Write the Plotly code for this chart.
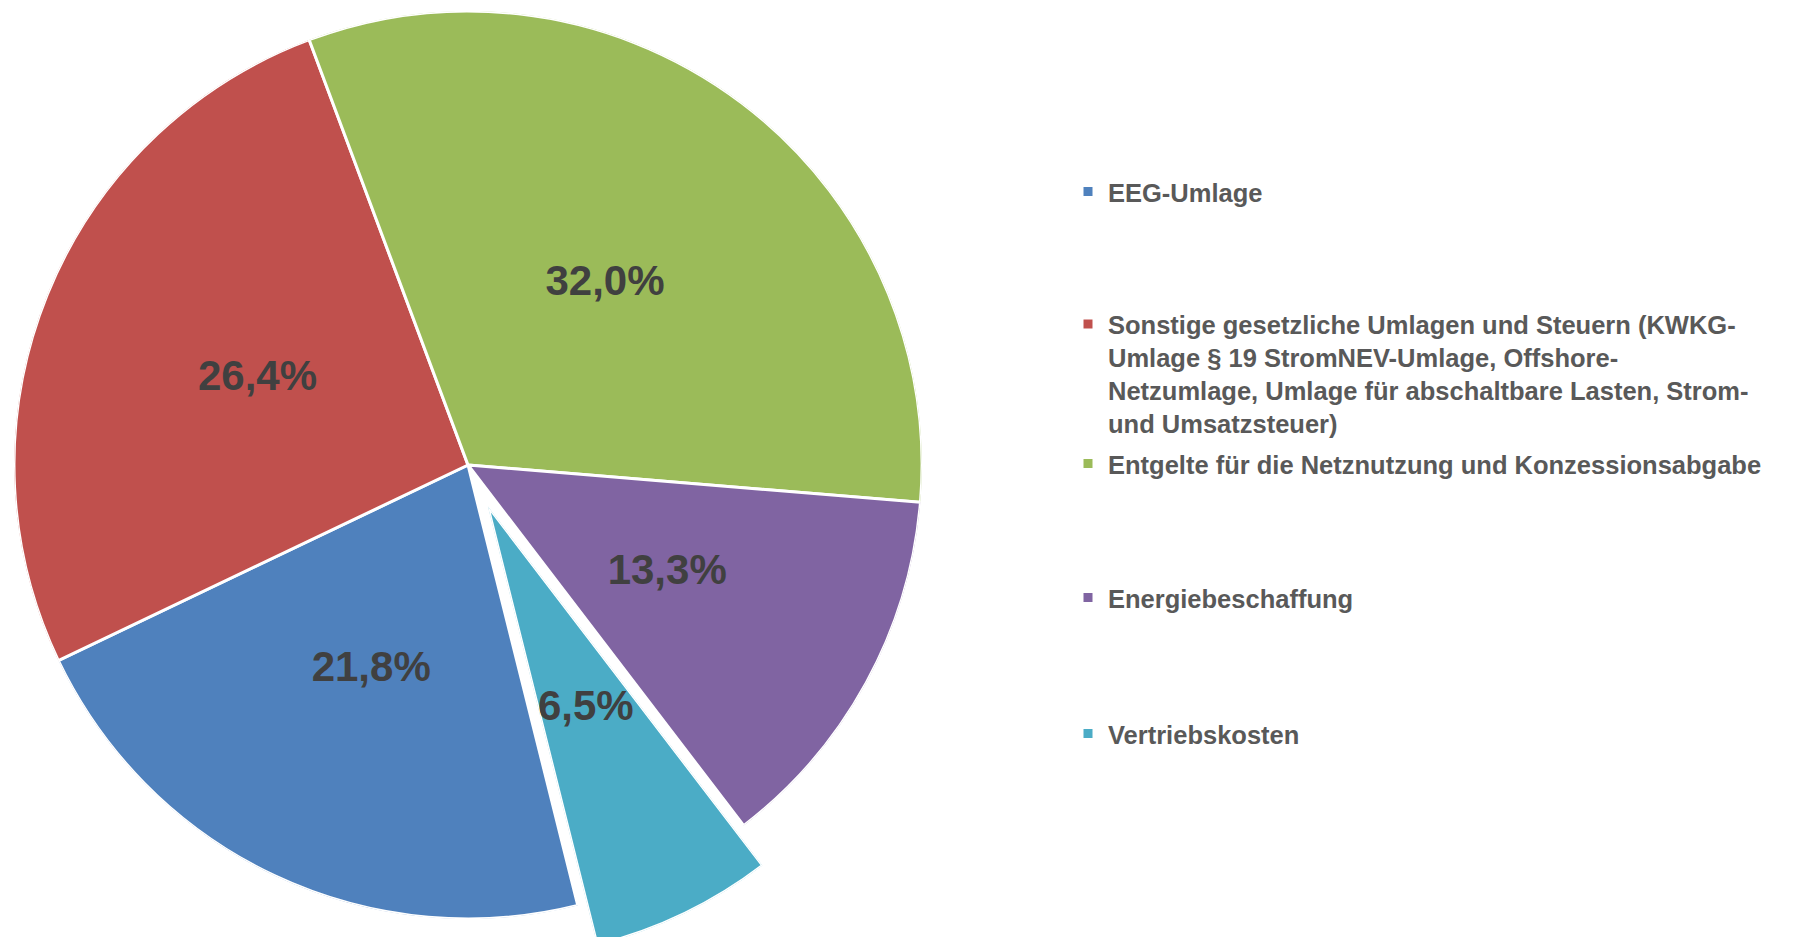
import math
import plotly.graph_objects as go

# ---------------- data ----------------
categories = [
    "EEG-Umlage",
    "Sonstige gesetzliche Umlagen und Steuern (KWKG-<br>Umlage § 19 StromNEV-Umlage, Offshore-<br>"
    "Netzumlage, Umlage für abschaltbare Lasten, Strom-<br>und Umsatzsteuer)",
    "Entgelte für die Netznutzung und Konzessionsabgabe",
    "Energiebeschaffung",
    "Vertriebskosten",
]
shares = [21.8, 26.4, 32.0, 13.3, 6.5]
exploded = [False, False, False, False, True]

# ---------------- style / layout ----------------
colors = ["#4F81BD", "#C0504D", "#9BBB59", "#8064A2", "#4BACC6"]
W, H = 1794, 937
PAGE_OFFSET = 8                    # default body margin of the html page
CX, CY, R = 468 - PAGE_OFFSET, 465 - PAGE_OFFSET, 454   # pie centre and radius (px, figure coords)
FIRST_ANGLE = 166                  # start of first slice, degrees clockwise from 12 o'clock
EXPLODE = 0.10                     # explosion as fraction of radius
LABEL_R = 0.5                      # data labels at half radius
legend_y_px = [192, 374, 464, 598, 734]
legend_x_px = 1060
FONT = "Liberation Sans, Arial, sans-serif"

total = sum(shares)
spans = [s / total * 360 for s in shares]
starts = []
acc = FIRST_ANGLE
for sp in spans:
    starts.append(acc)
    acc += sp
mids = [(st + sp / 2) % 360 for st, sp in zip(starts, spans)]
label_text = [f"{s:.1f}%".replace(".", ",") for s in shares]

fig = go.Figure()
legend_ids = ["legend"] + [f"legend{i}" for i in range(2, len(categories) + 1)]

main_idx = [i for i, e in enumerate(exploded) if not e]
expl_idx = [i for i, e in enumerate(exploded) if e]

for i in range(len(categories)):
    fig.add_trace(go.Barpolar(
        r=[1], theta=[mids[i]], width=[spans[i]],
        marker=dict(color=colors[i], line=dict(color="white", width=3)),
        name=categories[i],
        legend=legend_ids[i],
        subplot="polar" if not exploded[i] else "polar2",
        hoverinfo="skip",
    ))

label_font = dict(family=FONT, size=42, color="#404040", weight="bold")
fig.add_trace(go.Scatterpolar(
    r=[LABEL_R] * len(main_idx), theta=[mids[i] for i in main_idx],
    text=[label_text[i] for i in main_idx], mode="text", textfont=label_font,
    subplot="polar", showlegend=False, hoverinfo="skip", cliponaxis=False,
))
fig.add_trace(go.Scatterpolar(
    r=[LABEL_R] * len(expl_idx), theta=[mids[i] for i in expl_idx],
    text=[label_text[i] for i in expl_idx], mode="text", textfont=label_font,
    subplot="polar2", showlegend=False, hoverinfo="skip", cliponaxis=False,
))

hidden_ang = dict(rotation=90, direction="clockwise", visible=False,
                  showgrid=False, showline=False, showticklabels=False, ticks="")
hidden_rad = dict(range=[0, 1], visible=False, showgrid=False,
                  showline=False, showticklabels=False, ticks="")

dom_main = dict(x=[(CX - R) / W, (CX + R) / W], y=[1 - (CY + R) / H, 1 - (CY - R) / H])

# exploded slice: its own sector subplot, shifted outward along its mid-angle
e = expl_idx[0]
m = math.radians(mids[e])
ax_px = CX + EXPLODE * R * math.sin(m)
ay_px = CY - EXPLODE * R * math.cos(m)
a0 = 90 - (starts[e] + spans[e])
a1 = 90 - starts[e]
angs = [a0 + (a1 - a0) * k / 200 for k in range(201)]
xs = [0] + [math.cos(math.radians(a)) for a in angs]
ys = [0] + [math.sin(math.radians(a)) for a in angs]
xmin, xmax, ymin, ymax = min(xs), max(xs), min(ys), max(ys)
Rc = min(R, (H - ay_px) / (-ymin) if ymin < 0 else R)
dom2 = dict(
    x=[max(0, (ax_px + xmin * Rc) / W), min(1, (ax_px + xmax * Rc) / W)],
    y=[max(0, 1 - (ay_px - ymin * Rc) / H), min(1, 1 - (ay_px - ymax * Rc) / H)],
)

layout = dict(
    width=W, height=H,
    margin=dict(l=0, r=0, t=0, b=0),
    paper_bgcolor="white",
    showlegend=True,
    polar=dict(domain=dom_main, bgcolor="rgba(0,0,0,0)", angularaxis=hidden_ang,
               radialaxis=hidden_rad, bargap=0),
    polar2=dict(domain=dom2, sector=[a0, a1], bgcolor="rgba(0,0,0,0)",
                angularaxis=hidden_ang, radialaxis=hidden_rad, bargap=0),
)
for i, lid in enumerate(legend_ids):
    layout[lid] = dict(
        x=legend_x_px / W, xanchor="left",
        y=1 - (legend_y_px[i] - PAGE_OFFSET) / H, yanchor="middle",
        bgcolor="rgba(0,0,0,0)", valign="top",
        font=dict(family=FONT, size=25.5, color="#595959", weight="bold"),
    )
fig.update_layout(**layout)

fig.write_html("out.html")
